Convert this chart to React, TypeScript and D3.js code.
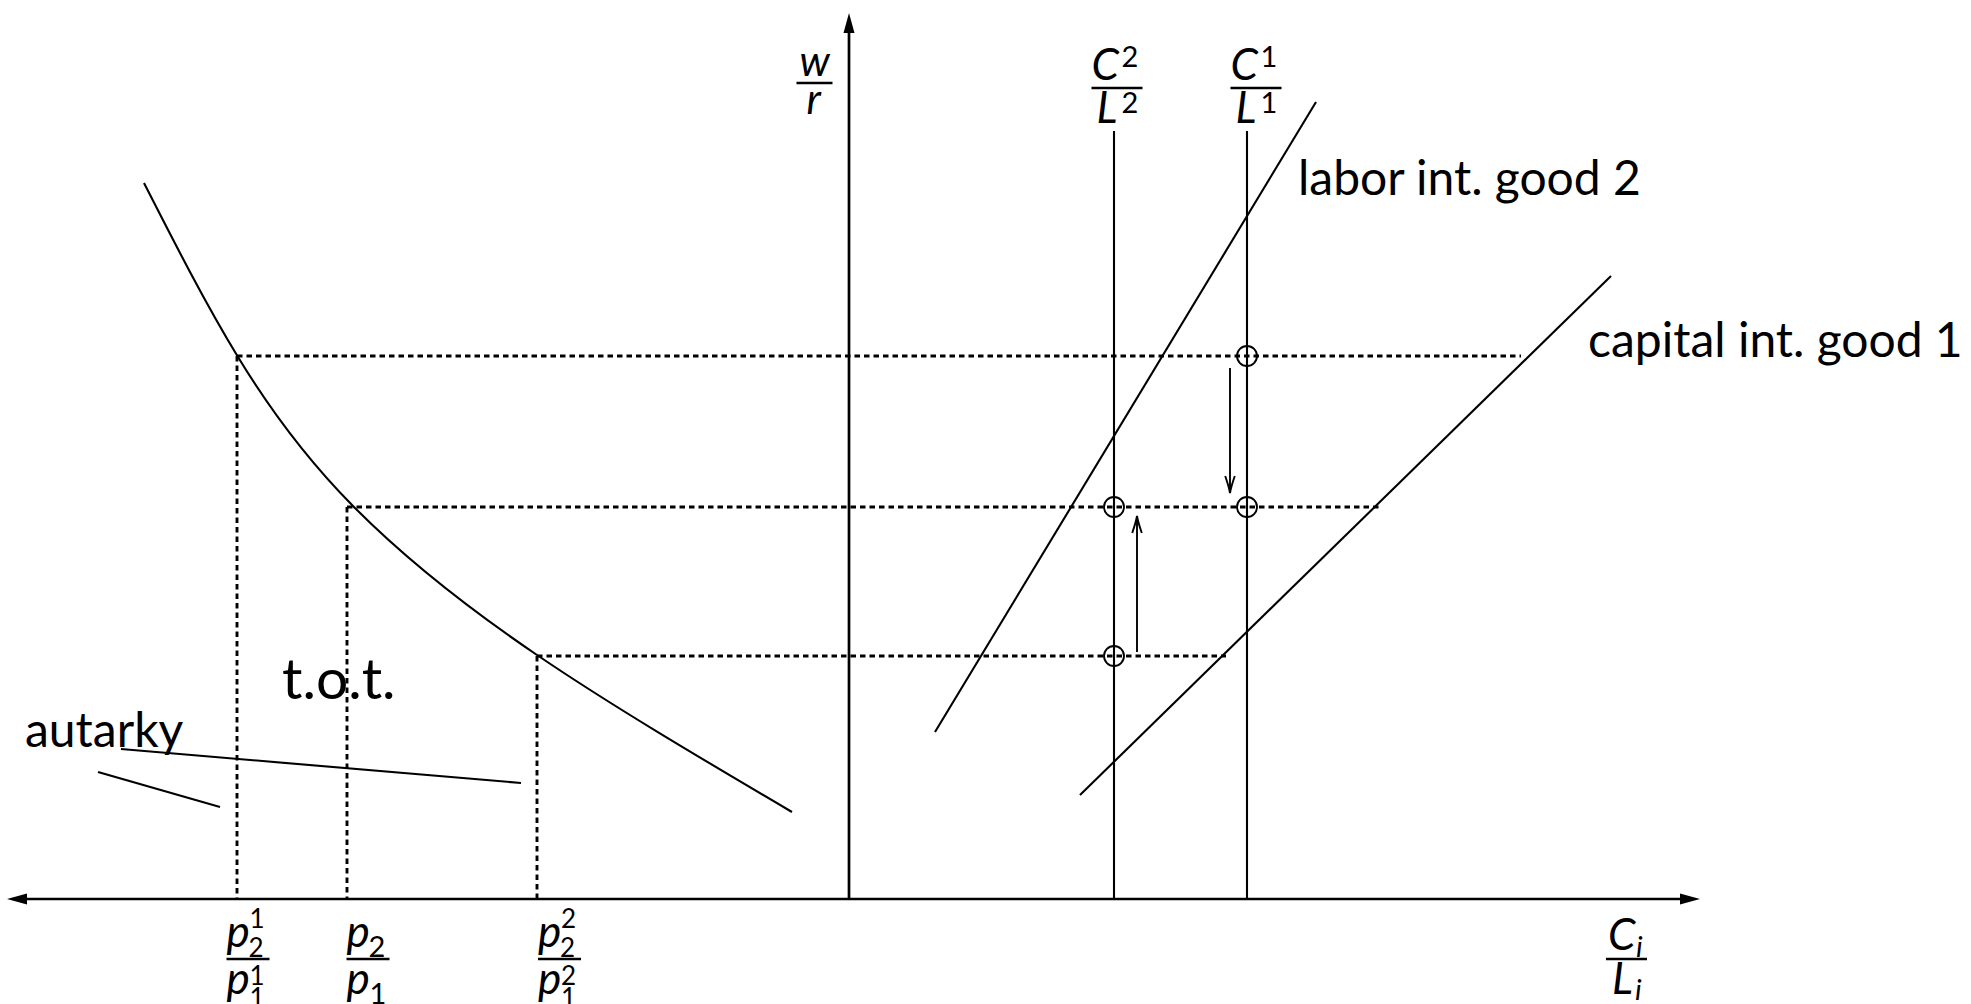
import React from 'react';
import * as d3 from 'd3';

const W = 1971;
const H = 1004;

// ---- diagram data (diagram units; origin where the axes cross) ----
const xAxisExtent = [-8.42, 8.51];
const yAxisTop = 8.86;
const priceRatios = [-6.12, -5.02, -3.12]; // p2^1/p1^1, p2/p1, p2^2/p1^2
const wageRentalLevels = [5.43, 3.92, 2.43];
const wageLineEnds = [6.72, 5.33, 3.77];
const curveX = [-7.05, -6.11, -4.96, -3.12, -0.57];
const curveY = [7.16, 5.42, 3.93, 2.44, 0.87];
const intensityX = [2.65, 3.98]; // C2/L2, C1/L1
const intensityTop = 7.68;
const laborLine = [[0.86, 1.67], [4.67, 7.97]];
const capitalLine = [[2.31, 1.04], [7.62, 6.23]];
const autarkyLong = [[-7.28, 1.5], [-3.28, 1.16]];
const autarkyShort = [[-7.51, 1.27], [-6.29, 0.92]];
const equilibria = [[3.98, 5.43], [2.65, 3.92], [3.98, 3.92], [2.65, 2.43]];
const shiftArrows = [[3.81, 5.31, 4.06], [2.88, 2.47, 3.83]]; // x, from y, to y

const labelTexts = ['labor int. good 2', 'capital int. good 1', 'autarky', 't.o.t.'];
const labelPos = [[4.49, 7.04], [7.39, 5.42], [-8.24, 1.52], [-5.67, 2.0]];

const x = d3.scaleLinear().domain([0, 1]).range([849, 949]);
const y = d3.scaleLinear().domain([0, 1]).range([899, 799]);

const FONT = 'Lato, "DejaVu Sans", sans-serif';

const line = d3.line<number[]>().x((d) => x(d[0])).y((d) => y(d[1]));
const curve = d3
  .line<number>()
  .x((_, i) => x(curveX[i]))
  .y((_, i) => y(curveY[i]))
  .curve(d3.curveNatural);

const SOLID = { stroke: '#000', strokeWidth: 2.1, fill: 'none' };
const AXIS = { stroke: '#000', strokeWidth: 2.7, fill: 'none' };
const DOT = { stroke: '#000', strokeWidth: 2.9, fill: 'none', strokeDasharray: '5.5,4' };

function Frac({ cx, barY, w, num, den }: any) {
  const x0 = cx - w / 2;
  return (
    <g fontFamily={FONT}>
      <line x1={x0} x2={x0 + w} y1={barY} y2={barY} stroke="#000" strokeWidth={2.4} />
      {num.map((t: any, i: number) => (
        <text key={'n' + i} x={x0 + t.dx} y={barY + t.dy} fontSize={t.fs} fontStyle={t.it ? 'italic' : 'normal'}>
          {t.s}
        </text>
      ))}
      {den.map((t: any, i: number) => (
        <text key={'d' + i} x={x0 + t.dx} y={barY + t.dy} fontSize={t.fs} fontStyle={t.it ? 'italic' : 'normal'}>
          {t.s}
        </text>
      ))}
    </g>
  );
}

const M = 44; // math font size
const S = 29; // script font size
const SS = 26; // stacked script font size

function pFrac(cx: number, sup: string | null) {
  const num: any[] = [
    { s: 'p', dx: 0, dy: -12, fs: M, it: true },
    { s: '2', dx: 22, dy: -2, fs: sup ? SS : S },
  ];
  const den: any[] = [
    { s: 'p', dx: 0, dy: 35, fs: M, it: true },
    { s: '1', dx: 23, dy: sup ? 48 : 45, fs: sup ? SS : S },
  ];
  if (sup) {
    num.push({ s: sup, dx: 23, dy: -31, fs: SS });
    den.push({ s: sup, dx: 23, dy: 26, fs: SS });
  }
  return <Frac cx={cx} barY={959} w={43} num={num} den={den} />;
}

function headPath(px: number, py: number, dir: string, len = 20, hw = 5.5) {
  if (dir === 'left') return `M${px},${py} L${px + len},${py - hw} L${px + len},${py + hw} Z`;
  if (dir === 'right') return `M${px},${py} L${px - len},${py - hw} L${px - len},${py + hw} Z`;
  return `M${px},${py} L${px - hw},${py + len} L${px + hw},${py + len} Z`;
}

function openHead(px: number, py: number, down: boolean) {
  const s = down ? -1 : 1;
  return `M${px - 4.8},${py + s * 17} Q${px - 1},${py + s * 6} ${px},${py} Q${px + 1},${py + s * 6} ${px + 4.8},${py + s * 17}`;
}

export default function App() {
  return (
    <svg
      width={W}
      height={H}
      viewBox={`0 0 ${W} ${H}`}
      style={{ position: 'absolute', left: 0, top: 0, background: '#fff' }}
    >
      <rect width={W} height={H} fill="#fff" />

      {/* dotted guide lines */}
      {wageRentalLevels.map((lv, i) => (
        <g key={'g' + i}>
          <line x1={x(priceRatios[i])} x2={x(wageLineEnds[i])} y1={y(lv)} y2={y(lv)} {...DOT} />
          <line x1={x(priceRatios[i])} x2={x(priceRatios[i])} y1={y(lv)} y2={y(0)} {...DOT} />
        </g>
      ))}

      {/* axes */}
      <line x1={x(xAxisExtent[0]) + 10} x2={x(xAxisExtent[1]) - 10} y1={y(0)} y2={y(0)} {...AXIS} />
      <path d={headPath(x(xAxisExtent[0]), y(0), 'left')} fill="#000" />
      <path d={headPath(x(xAxisExtent[1]), y(0), 'right')} fill="#000" />
      <line x1={x(0)} x2={x(0)} y1={y(0)} y2={y(yAxisTop) + 10} {...AXIS} />
      <path d={headPath(x(0), y(yAxisTop), 'up')} fill="#000" />

      {/* relative price / factor price curve */}
      <path d={curve(curveX) as string} {...SOLID} />

      {/* autarky and t.o.t. lines */}
      <path d={line(autarkyLong as any) as string} {...SOLID} />
      <path d={line(autarkyShort as any) as string} {...SOLID} />

      {/* factor intensity lines */}
      <path d={line(laborLine as any) as string} {...SOLID} />
      <path d={line(capitalLine as any) as string} {...SOLID} />

      {/* capital/labor endowment verticals */}
      {intensityX.map((ix, i) => (
        <line key={'v' + i} x1={x(ix)} x2={x(ix)} y1={y(0)} y2={y(intensityTop)} {...SOLID} />
      ))}

      {/* equilibrium circles */}
      {equilibria.map((e, i) => (
        <circle key={'c' + i} cx={x(e[0])} cy={y(e[1])} r={10} stroke="#000" strokeWidth={1.9} fill="none" />
      ))}

      {/* shift arrows */}
      {shiftArrows.map((a, i) => (
        <g key={'a' + i}>
          <line x1={x(a[0])} x2={x(a[0])} y1={y(a[1])} y2={y(a[2])} stroke="#000" strokeWidth={1.9} />
          <path d={openHead(x(a[0]), y(a[2]), a[2] < a[1])} stroke="#000" strokeWidth={1.9} fill="none" />
        </g>
      ))}

      {/* text labels */}
      {labelTexts.map((t, i) => (
        <text
          key={'t' + i}
          x={x(labelPos[i][0])}
          y={y(labelPos[i][1])}
          fontFamily={FONT}
          fontSize={i === 3 ? 57 : 48}
        >
          {t}
        </text>
      ))}

      {/* axis labels */}
      <Frac
        cx={814.5}
        barY={83}
        w={36}
        num={[{ s: 'w', dx: 3, dy: -7, fs: 42, it: true }]}
        den={[{ s: 'r', dx: 10, dy: 31, fs: 42, it: true }]}
      />
      <Frac
        cx={x(intensityX[0]) + 3}
        barY={88}
        w={51}
        num={[
          { s: 'C', dx: 0, dy: -8, fs: M, it: true },
          { s: '2', dx: 30, dy: -21, fs: S },
        ]}
        den={[
          { s: 'L', dx: 5, dy: 35, fs: M, it: true },
          { s: '2', dx: 30, dy: 25, fs: S },
        ]}
      />
      <Frac
        cx={x(intensityX[1]) + 9}
        barY={88}
        w={51}
        num={[
          { s: 'C', dx: 0, dy: -8, fs: M, it: true },
          { s: '1', dx: 30, dy: -21, fs: S },
        ]}
        den={[
          { s: 'L', dx: 5, dy: 35, fs: M, it: true },
          { s: '1', dx: 30, dy: 25, fs: S },
        ]}
      />
      <Frac
        cx={1626.5}
        barY={959}
        w={41}
        num={[
          { s: 'C', dx: 2, dy: -9, fs: M, it: true },
          { s: 'i', dx: 30, dy: -2, fs: S, it: true },
        ]}
        den={[
          { s: 'L', dx: 6, dy: 35, fs: M, it: true },
          { s: 'i', dx: 29, dy: 41, fs: S, it: true },
        ]}
      />
      {pFrac(x(priceRatios[0]) + 11, '1')}
      {pFrac(x(priceRatios[1]) + 21, null)}
      {pFrac(x(priceRatios[2]) + 22.5, '2')}
    </svg>
  );
}
